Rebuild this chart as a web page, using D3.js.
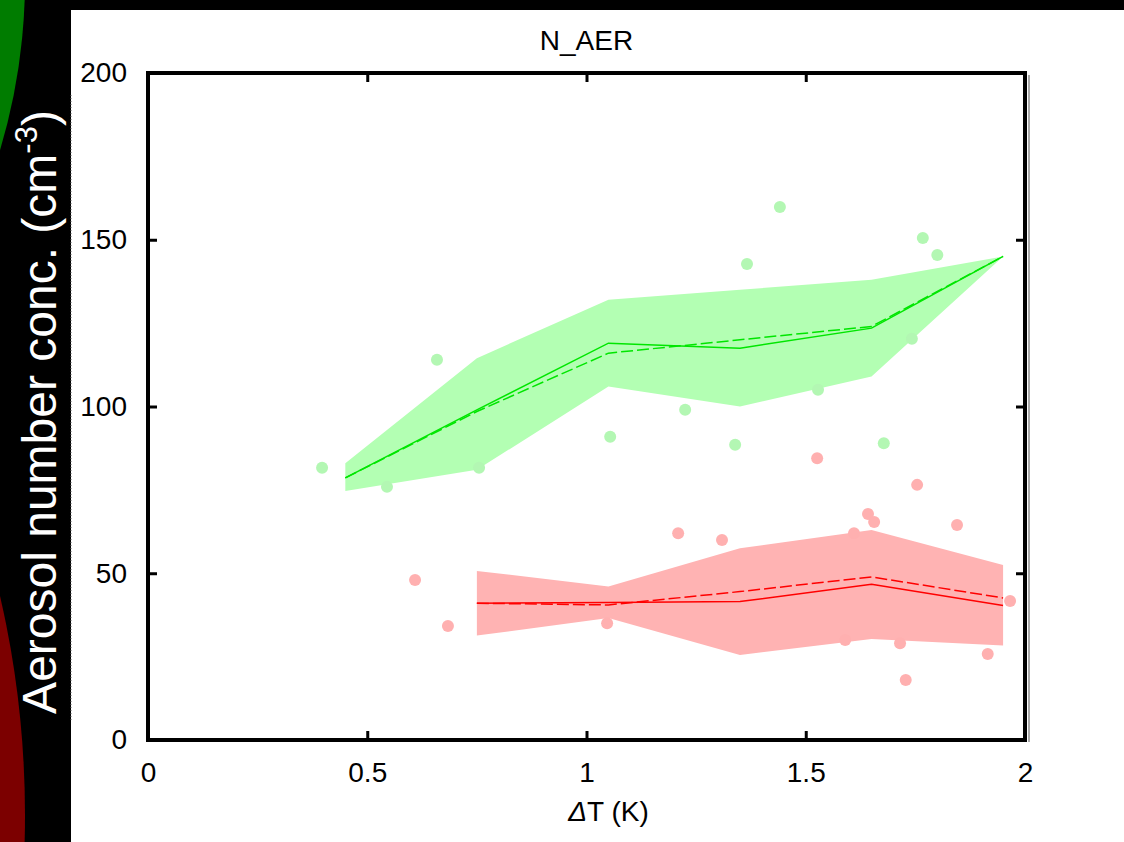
<!DOCTYPE html>
<html>
<head>
<meta charset="utf-8">
<script src="https://cdn.jsdelivr.net/npm/d3@7"></script>
<style>
  body { margin: 0; background: #000; }
  svg { display: block; font-family: "Liberation Sans", Arial, sans-serif; }
</style>
</head>
<body>
<svg width="1124" height="842"></svg>
<script>
// binned means and spread
const greenBins = [0.45, 0.75, 1.05, 1.35, 1.65, 1.95];
const greenSolid = [78.6, 99, 119, 117.5, 123.5, 145];
const greenDashed = [78.6, 98.5, 116, 120, 124, 145];
const greenUpper = [83, 114.5, 132, 135, 138, 145];
const greenLower = [74.7, 81, 106, 100, 109, 145];

const redBins = [0.75, 1.05, 1.35, 1.65, 1.95];
const redSolid = [41, 41.2, 41.5, 46.7, 40.3];
const redDashed = [41, 40.5, 44.5, 48.9, 42.6];
const redUpper = [50.7, 46, 57.5, 63, 52.5];
const redLower = [31.3, 36.6, 25.5, 30.3, 28.3];

// individual samples
const greenPtsX = [0.397, 0.545, 0.659, 0.755, 1.054, 1.225, 1.339, 1.366, 1.441, 1.528, 1.678, 1.742, 1.767, 1.80];
const greenPtsY = [81.6, 75.9, 114, 81.6, 90.9, 99, 88.5, 142.7, 159.8, 105, 89, 120.3, 150.5, 145.4];
const redPtsX = [0.609, 0.684, 1.047, 1.209, 1.309, 1.526, 1.59, 1.61, 1.642, 1.656, 1.715, 1.728, 1.754, 1.845, 1.915, 1.966];
const redPtsY = [48, 34.2, 35, 62, 60, 84.5, 30, 62, 67.8, 65.4, 29, 18, 76.5, 64.5, 25.8, 41.7];

const xTicks = [0, 0.5, 1, 1.5, 2];
const yTicks = [0, 50, 100, 150, 200];

const svg = d3.select('svg');
const W = 1124;
const H = 842;
const m = {left: 148, right: 1025, top: 73, bottom: 740};

// slide background: black strip, white panel, coloured discs on the left
svg.append('rect').attr('width', W).attr('height', H).attr('fill', '#000');
svg.append('circle').attr('cx', -567).attr('cy', -20).attr('r', 592).attr('fill', '#007c00');
svg.append('circle').attr('cx', -947).attr('cy', 815).attr('r', 972).attr('fill', '#7c0000');
svg.append('rect').attr('x', 71).attr('y', 10).attr('width', W - 71).attr('height', H - 10).attr('fill', '#fff');
svg.append('line')
  .attr('x1', 71).attr('x2', 71).attr('y1', 95).attr('y2', 720)
  .attr('stroke', '#666').attr('stroke-width', 1).attr('stroke-dasharray', '1,2');

const x = d3.scaleLinear().domain([0, 2]).range([m.left, m.right]);
const y = d3.scaleLinear().domain([0, 200]).range([m.bottom, m.top]);

function drawGroup(bins, solid, dashed, upper, lower, ptsX, ptsY, band, dot, lineCol) {
  const area = d3.area()
    .x((d, i) => x(bins[i]))
    .y0((d, i) => y(lower[i]))
    .y1((d, i) => y(upper[i]));
  svg.append('path').datum(bins).attr('d', area).attr('fill', band);

  svg.append('g').selectAll('circle')
    .data(ptsX)
    .enter()
    .append('circle')
    .attr('cx', d => x(d))
    .attr('cy', (d, i) => y(ptsY[i]))
    .attr('r', 6)
    .attr('fill', dot);

  const line = vals => d3.line()
    .x((d, i) => x(bins[i]))
    .y((d, i) => y(vals[i]));
  svg.append('path').datum(bins).attr('d', line(dashed))
    .attr('fill', 'none').attr('stroke', lineCol).attr('stroke-width', 1.5)
    .attr('stroke-dasharray', '12,4');
  svg.append('path').datum(bins).attr('d', line(solid))
    .attr('fill', 'none').attr('stroke', lineCol).attr('stroke-width', 1.5);
}

drawGroup(greenBins, greenSolid, greenDashed, greenUpper, greenLower,
  greenPtsX, greenPtsY, '#b3ffb3', '#b3f7b3', '#00e600');
drawGroup(redBins, redSolid, redDashed, redUpper, redLower,
  redPtsX, redPtsY, '#ffb3b3', '#ffb0b0', '#ff0000');

// inward ticks on all four sides
const tickStyle = g => {
  g.select('.domain').remove();
  g.selectAll('.tick line').attr('stroke', '#000').attr('stroke-width', 3);
  g.selectAll('.tick text').attr('fill', '#000').attr('font-size', 28)
    .attr('font-family', '"Liberation Sans", Arial, sans-serif');
};
svg.append('g').attr('transform', `translate(0,${m.bottom})`)
  .call(d3.axisBottom(x).tickValues(xTicks).tickSize(-9).tickPadding(22).tickFormat(d3.format('')))
  .call(tickStyle);
svg.append('g').attr('transform', `translate(0,${m.top})`)
  .call(d3.axisTop(x).tickValues(xTicks).tickSize(-9).tickFormat(''))
  .call(tickStyle);
svg.append('g').attr('transform', `translate(${m.left},0)`)
  .call(d3.axisLeft(y).tickValues(yTicks).tickSize(-9).tickPadding(21))
  .call(tickStyle);
svg.append('g').attr('transform', `translate(${m.right},0)`)
  .call(d3.axisRight(y).tickValues(yTicks).tickSize(-9).tickFormat(''))
  .call(tickStyle);

// frame with a faint shadow on the right
svg.append('line')
  .attr('x1', m.right + 4).attr('x2', m.right + 4).attr('y1', m.top + 2).attr('y2', m.bottom + 2)
  .attr('stroke', '#aaa').attr('stroke-width', 2);
svg.append('rect')
  .attr('x', m.left).attr('y', m.top)
  .attr('width', m.right - m.left).attr('height', m.bottom - m.top)
  .attr('fill', 'none').attr('stroke', '#000').attr('stroke-width', 4);

// title and axis labels
svg.append('text')
  .attr('x', (m.left + m.right) / 2).attr('y', 50)
  .attr('text-anchor', 'middle').attr('font-size', 28)
  .text('N_AER');

const xl = svg.append('text')
  .attr('x', (m.left + m.right) / 2 + 22).attr('y', 821)
  .attr('text-anchor', 'middle').attr('font-size', 28);
xl.append('tspan').attr('font-style', 'italic').text('Δ');
xl.append('tspan').text('T (K)');

const yl = svg.append('text')
  .attr('transform', 'translate(56,412) rotate(-90)')
  .attr('text-anchor', 'middle').attr('font-size', 48).attr('fill', '#fff');
yl.append('tspan').text('Aerosol number conc. (cm');
yl.append('tspan').attr('font-size', 31).attr('dy', -19).text('-3');
yl.append('tspan').attr('dy', 19).text(')');
</script>
</body>
</html>
